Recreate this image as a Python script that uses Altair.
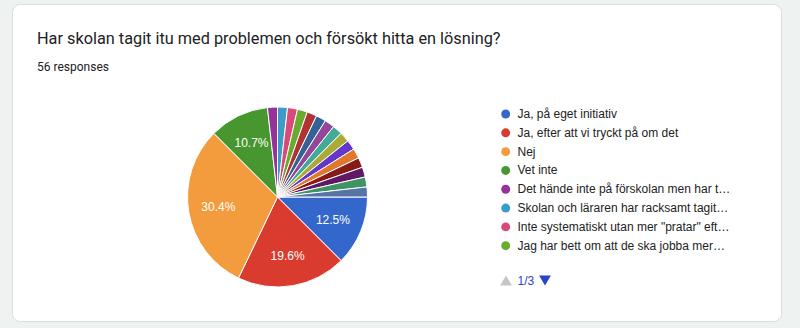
import math
import altair as alt
import pandas as pd

# ---- data ----
answers = [
    "Ja, på eget initiativ",
    "Ja, efter att vi tryckt på om det",
    "Nej",
    "Vet inte",
    "Det hände inte på förskolan men har t…",
    "Skolan och läraren har racksamt tagit…",
    "Inte systematiskt utan mer \"pratar\" eft…",
    "Jag har bett om att de ska jobba mer…",
    "Svar 9", "Svar 10", "Svar 11", "Svar 12", "Svar 13", "Svar 14",
    "Svar 15", "Svar 16", "Svar 17", "Svar 18", "Svar 19",
]
counts = [7, 11, 17, 6, 1, 1, 1, 1, 1, 1, 1, 1, 1, 1, 1, 1, 1, 1, 1]
pct_labels = ["12.5%", "19.6%", "30.4%", "10.7%"] + [""] * 15
colors = [
    "#3467cc", "#da3b2f", "#f39c3d", "#47962f", "#94349a", "#3c9cc8",
    "#d94a78", "#6aaa2e", "#b13233", "#336394", "#944699", "#43a999",
    "#acaa36", "#6436c9", "#e2762b", "#871a17", "#611864", "#409364",
    "#5674a4",
]
legend_shown = answers[:8]
title_text = "Har skolan tagit itu med problemen och försökt hitta en lösning?"
subtitle_text = "56 responses"
page_text = "1/3"

df = pd.DataFrame({
    "idx": list(range(len(answers))),
    "answer": answers,
    "count": counts,
    "pct": pct_labels,
})

CX, CY, R = 277.5, 197, 90
one = alt.Data(values=[{"a": 1}])

color_enc = alt.Color("answer:N", scale=alt.Scale(domain=answers, range=colors), legend=None)
theta_enc = alt.Theta("count:Q", stack=True,
                      scale=alt.Scale(range=[math.pi / 2, math.pi / 2 + 2 * math.pi]))

card = alt.Chart(one).mark_rect(
    fill="white", stroke="#dadce0", strokeWidth=1, cornerRadius=8
).encode(x=alt.value(12.5), x2=alt.value(781.5), y=alt.value(4.5), y2=alt.value(321.5))

title = alt.Chart(one).mark_text(
    text=title_text, font="Roboto", fontSize=16.3, color="#202124",
    align="left", baseline="alphabetic"
).encode(x=alt.value(37), y=alt.value(43.5))

subtitle = alt.Chart(one).mark_text(
    text=subtitle_text, font="Roboto", fontSize=12, color="#202124",
    align="left", baseline="alphabetic"
).encode(x=alt.value(37), y=alt.value(70.5))

pie = alt.Chart(df).mark_arc(outerRadius=R, stroke="white", strokeWidth=1).encode(
    theta=theta_enc,
    order=alt.Order("idx:Q"),
    color=color_enc,
    x=alt.value(CX), y=alt.value(CY),
)

pie_text = alt.Chart(df).mark_text(
    radius=60, font="Liberation Sans", fontSize=12, color="white"
).encode(
    theta=theta_enc,
    order=alt.Order("idx:Q"),
    text="pct:N",
    x=alt.value(CX), y=alt.value(CY),
)

leg_y = alt.Y("answer:N", scale=alt.Scale(type="point", domain=legend_shown,
                                          range=[114, 245.7], padding=0), axis=None)

legend_dots = alt.Chart(df).transform_filter(
    alt.datum.idx < 8
).mark_circle(size=80, opacity=1).encode(
    x=alt.value(505.7), y=leg_y, color=color_enc
)

legend_text = alt.Chart(df).transform_filter(
    alt.datum.idx < 8
).mark_text(
    font="Liberation Sans", fontSize=12, color="#222222", align="left", baseline="middle"
).encode(
    x=alt.value(517.5), y=leg_y, text="answer:N"
)

tri_up = alt.Chart(one).mark_point(
    shape="triangle-up", filled=True, color="#c6c6c6", size=140, opacity=1
).encode(x=alt.value(506), y=alt.value(280.5))

page = alt.Chart(one).mark_text(
    text=page_text, font="Liberation Sans", fontSize=12, color="#2a43c9",
    align="left", baseline="middle"
).encode(x=alt.value(517.5), y=alt.value(280.5))

tri_down = alt.Chart(one).mark_point(
    shape="triangle-down", filled=True, color="#2a43c9", size=140, opacity=1
).encode(x=alt.value(545), y=alt.value(280.5))

chart = alt.layer(
    card, title, subtitle, pie, pie_text, legend_dots, legend_text, tri_up, page, tri_down
).properties(
    width=800, height=328, autosize=alt.AutoSizeParams(type="none"), padding=0,
    background="#eef2f1",
).configure_view(stroke=None)

chart.save("out.html", embed_options={"renderer": "svg", "actions": False})
